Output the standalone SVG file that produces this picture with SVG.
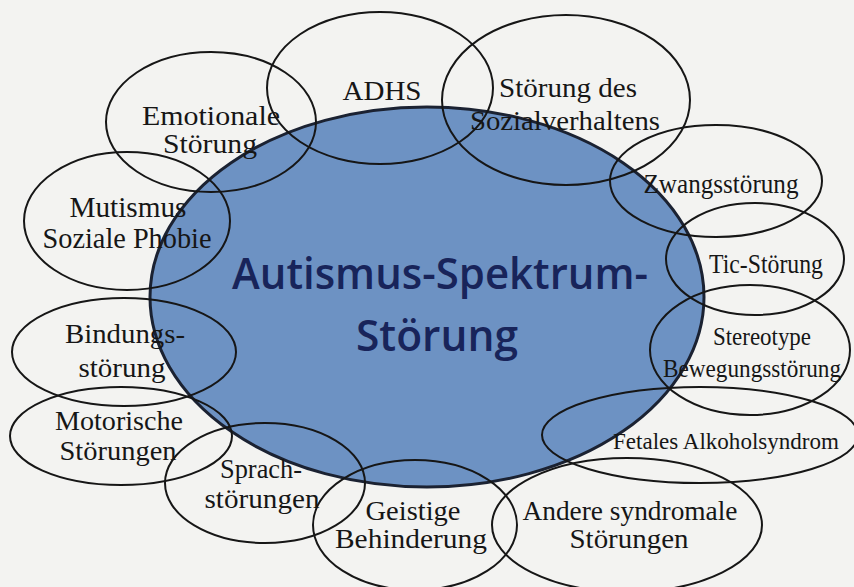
<svg xmlns="http://www.w3.org/2000/svg" width="854" height="587" viewBox="0 0 854 587">
<style>
.sat{fill:none;stroke:#161616;stroke-width:2}
.lbl{font-family:"Liberation Serif","Times New Roman",serif;fill:#161616;text-anchor:middle}
.core{font-family:"Open Sans","Noto Sans",sans-serif;font-weight:600;fill:#18245a;text-anchor:middle}
</style>
<rect width="854" height="587" fill="#f3f3f1"/>
<g id="autismus">
<ellipse cx="427" cy="297" rx="277" ry="190" fill="#6d92c3" stroke="#1b2232" stroke-width="3"/>
</g>
<g id="emotionale"><ellipse class="sat" cx="211" cy="122" rx="105" ry="70"/>
<text class="lbl" x="211" y="125" font-size="28" textLength="138" lengthAdjust="spacingAndGlyphs">Emotionale</text><text class="lbl" x="210" y="153" font-size="28" textLength="94" lengthAdjust="spacingAndGlyphs">Störung</text></g>
<g id="adhs"><ellipse class="sat" cx="380" cy="88" rx="113" ry="76"/>
<text class="lbl" x="382" y="100" font-size="28" textLength="79" lengthAdjust="spacingAndGlyphs">ADHS</text></g>
<g id="sozial"><ellipse class="sat" cx="566" cy="100" rx="124" ry="85"/>
<text class="lbl" x="568" y="97" font-size="27" textLength="138" lengthAdjust="spacingAndGlyphs">Störung des</text><text class="lbl" x="565" y="130" font-size="27" textLength="190" lengthAdjust="spacingAndGlyphs">Sozialverhaltens</text></g>
<g id="zwang"><ellipse class="sat" cx="716" cy="181" rx="106" ry="56"/>
<text class="lbl" x="721" y="193" font-size="27" textLength="155" lengthAdjust="spacingAndGlyphs">Zwangsstörung</text></g>
<g id="tic"><ellipse class="sat" cx="755" cy="259" rx="89" ry="56"/>
<text class="lbl" x="766" y="273" font-size="27" textLength="114" lengthAdjust="spacingAndGlyphs">Tic-Störung</text></g>
<g id="stereotype"><ellipse class="sat" cx="750" cy="350" rx="100" ry="65"/>
<text class="lbl" x="762" y="345" font-size="25" textLength="98" lengthAdjust="spacingAndGlyphs">Stereotype</text><text class="lbl" x="752" y="377" font-size="25" textLength="178" lengthAdjust="spacingAndGlyphs">Bewegungsstörung</text></g>
<g id="fetales"><ellipse class="sat" cx="700" cy="435" rx="158" ry="48"/>
<text class="lbl" x="726" y="449" font-size="24" textLength="226" lengthAdjust="spacingAndGlyphs">Fetales Alkoholsyndrom</text></g>
<g id="andere"><ellipse class="sat" cx="627" cy="525" rx="135" ry="67"/>
<text class="lbl" x="630" y="520" font-size="27" textLength="215" lengthAdjust="spacingAndGlyphs">Andere syndromale</text><text class="lbl" x="629" y="548" font-size="27" textLength="119" lengthAdjust="spacingAndGlyphs">Störungen</text></g>
<g id="geistige"><ellipse class="sat" cx="415" cy="525" rx="102" ry="65"/>
<text class="lbl" x="413" y="520" font-size="27" textLength="95" lengthAdjust="spacingAndGlyphs">Geistige</text><text class="lbl" x="411" y="548" font-size="27" textLength="152" lengthAdjust="spacingAndGlyphs">Behinderung</text></g>
<g id="sprach"><ellipse class="sat" cx="265" cy="483" rx="100" ry="60"/>
<text class="lbl" x="261" y="478" font-size="28" textLength="82" lengthAdjust="spacingAndGlyphs">Sprach-</text><text class="lbl" x="262" y="508" font-size="28" textLength="115" lengthAdjust="spacingAndGlyphs">störungen</text></g>
<g id="motorisch"><ellipse class="sat" cx="121" cy="436" rx="111" ry="49"/>
<text class="lbl" x="119" y="430" font-size="28" textLength="128" lengthAdjust="spacingAndGlyphs">Motorische</text><text class="lbl" x="118" y="460" font-size="28" textLength="117" lengthAdjust="spacingAndGlyphs">Störungen</text></g>
<g id="bindung"><ellipse class="sat" cx="124" cy="352" rx="112" ry="54"/>
<text class="lbl" x="125" y="343" font-size="28" textLength="120" lengthAdjust="spacingAndGlyphs">Bindungs-</text><text class="lbl" x="122" y="377" font-size="28" textLength="87" lengthAdjust="spacingAndGlyphs">störung</text></g>
<g id="mutismus"><ellipse class="sat" cx="127" cy="221" rx="103" ry="69"/>
<text class="lbl" x="128" y="217" font-size="29" textLength="117" lengthAdjust="spacingAndGlyphs">Mutismus</text><text class="lbl" x="127" y="248" font-size="29" textLength="169" lengthAdjust="spacingAndGlyphs">Soziale Phobie</text></g>
<g id="core-label">
<text class="core" x="440" y="289" font-size="43" textLength="416" lengthAdjust="spacingAndGlyphs">Autismus-Spektrum-</text>
<text class="core" x="437" y="351" font-size="43" textLength="162" lengthAdjust="spacingAndGlyphs">Störung</text>
</g>
</svg>
